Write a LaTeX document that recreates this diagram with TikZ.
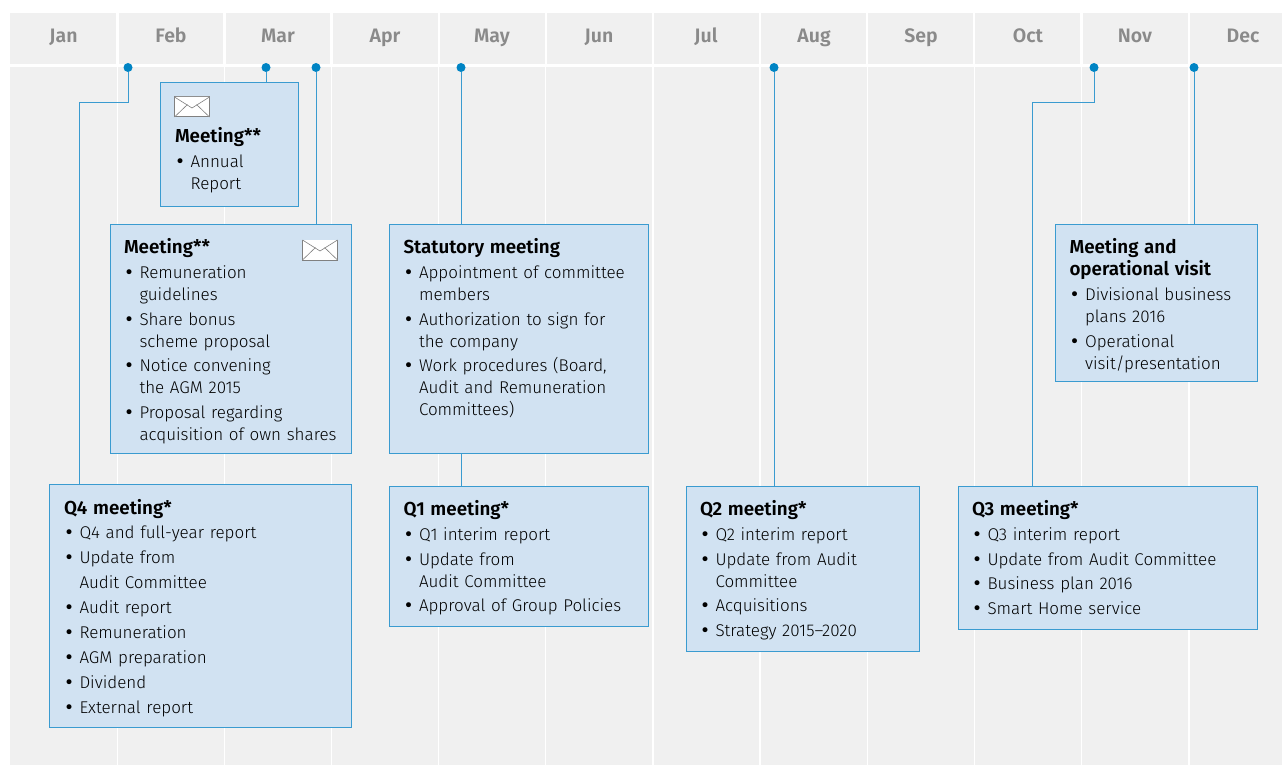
\documentclass[tikz,border=0pt]{standalone}
\usepackage{fontspec}
\setmainfont{Fira Sans}[UprightFont=* Light,BoldFont=* SemiBold]
\newfontfamily\bulfont{DejaVu Sans}
\definecolor{panel}{HTML}{F0F0F0}
\definecolor{boxfill}{HTML}{D1E2F2}
\definecolor{boxline}{HTML}{3A9BD0}
\definecolor{dotblue}{HTML}{0084C4}
\definecolor{month}{HTML}{8A8A8A}
\definecolor{envline}{HTML}{808080}
\newcommand{\bl}[1]{\makebox[15.5pt][l]{{\bulfont •}}#1\par}
\newcommand{\cl}[1]{\vspace{-2.6pt}\hspace*{15.5pt}#1\par}
\newcommand{\cln}[1]{\hspace*{15.5pt}#1\par}
\newcommand{\ti}[1]{{\bfseries\fontsize{18.8}{24.6}\selectfont #1\par}\vspace{1pt}}
\newcommand{\envelope}[2]{\draw[envstyle] (#1,#2) rectangle ++(35,20);
  \draw[envstyle,line width=.6pt] (#1,#2) -- ++(17.5,11) -- ++(17.5,-11);
  \draw[envstyle,line width=.6pt] (#1,#2+20) -- ++(13,-12.5);
  \draw[envstyle,line width=.6pt] (#1+35,#2+20) -- ++(-13,-12.5);}
\tikzset{
  x=1pt,y=-1pt,
  mbox/.style={draw=boxline,fill=boxfill,line width=1pt,anchor=north west,inner sep=0pt,outer sep=0pt},
  mtext/.style={anchor=north west,inner sep=0pt,outer sep=0pt,align=left,text width=#1,font=\fontsize{17}{24.6}\selectfont},
  monthlbl/.style={text=month,font=\bfseries\fontsize{19.5}{20}\selectfont,anchor=base},
  dotn/.style={circle,fill=dotblue,minimum size=9pt,inner sep=0pt,outer sep=0pt},
  conn/.style={draw=boxline,line width=1pt},
  gridl/.style={draw=white,line width=1.2pt},
  gridh/.style={draw=white,line width=2.3pt},
  envstyle/.style={draw=envline,fill=white,line width=1pt}
}
\newcommand{\mb}[5]{\node[mbox,minimum width=#4-#2,minimum height=#5-#3] (#1) at (#2,#3) {};}
\begin{document}
\begin{tikzpicture}
\useasboundingbox (0,0) rectangle (1282,765);
\fill[panel] (10,13) rectangle (1282,765);
\foreach \x in {117.5,224.5,331.6,438.7,545.8,652.9,760,867.1,974.2,1081.5,1189} {
  \draw[gridl] (\x,65) -- (\x,765);
  \draw[gridh] (\x,13) -- (\x,65);
}
\draw[gridh] (10,65.5) -- (1282,65.5);
\foreach \m/\x in {Jan/63.5,Feb/171,Mar/278,Apr/385,May/492,Jun/599,Jul/706,Aug/814,Sep/921,Oct/1028,Nov/1135,Dec/1243}
  \node[monthlbl] (m\m) at (\x,43) {\m};
% dots
\foreach \n/\x in {d1/128,d2/266,d3/316,d4/461,d5/774,d6/1094,d7/1194}
  \node[dotn] (\n) at (\x,67.5) {};
% boxes
\mb{q4}{49.5}{484}{351.5}{727.5}
\mb{m1}{160.5}{82.5}{298.5}{206.5}
\mb{m2}{110}{224.5}{351.5}{453.5}
\mb{st}{389}{224.5}{648}{453.5}
\mb{q1}{389}{486}{648}{626}
\mb{q2}{686}{486}{919.5}{651}
\mb{mv}{1055}{224.5}{1257}{381}
\mb{q3}{958}{486}{1257}{629}
% connectors
\coordinate (e1) at (128,103);
\coordinate (e2) at (79.5,103);
\coordinate (e3) at (1094,103);
\coordinate (e4) at (1032.5,103);
\draw[conn] (d1) -- (e1) -- (e2) -- (e2 |- q4.north);
\draw[conn] (d2) -- (d2 |- m1.north);
\draw[conn] (d3) -- (d3 |- m2.north);
\draw[conn] (d4) -- (d4 |- st.north);
\draw[conn] (d4 |- st.south) -- (d4 |- q1.north);
\draw[conn] (d5) -- (d5 |- q2.north);
\draw[conn] (d6) -- (e3) -- (e4) -- (e4 |- q3.north);
\draw[conn] (d7) -- (d7 |- mv.north);
% envelopes
\envelope{174.5}{97}
\envelope{302.5}{240}
% texts
\node[mtext=280pt] (t1) at (64,499) {\fontsize{17}{25}\selectfont\ti{Q4 meeting*}\vspace{-2pt}\bl{Q4 and full-year report}\bl{Update from}\cln{Audit Committee}\bl{Audit report}\bl{Remuneration}\bl{AGM preparation}\bl{Dividend}\bl{External report}};
\node[mtext=120pt] (t2) at (175,127) {\ti{Meeting**}\bl{Annual}\cl{Report}};
\node[mtext=225pt] (t3) at (124,238) {\ti{Meeting**}\bl{Remuneration}\cl{guidelines}\bl{Share bonus}\cl{scheme proposal}\bl{Notice convening}\cl{the AGM 2015}\bl{Proposal regarding}\cl{acquisition of own shares}};
\node[mtext=240pt] (t4) at (403.5,238) {\ti{Statutory meeting}\bl{Appointment of committee}\cl{members}\bl{Authorization to sign for}\cl{the company}\bl{Work procedures (Board,}\cl{Audit and Remuneration}\cl{Committees)}};
\node[mtext=240pt] (t5) at (403.5,500) {\ti{Q1 meeting*}\bl{Q1 interim report}\bl{Update from}\cl{Audit Committee}\bl{Approval of Group Policies}};
\node[mtext=210pt] (t6) at (700,500) {\ti{Q2 meeting*}\bl{Q2 interim report}\bl{Update from Audit}\cl{Committee}\bl{Acquisitions}\bl{Strategy 2015–2020}};
\node[mtext=180pt] (t7) at (1069.5,238) {\ti{Meeting and}\vspace{-3.5pt}\ti{operational visit}\bl{Divisional business}\cl{plans 2016}\bl{Operational}\cl{visit/presentation}};
\node[mtext=280pt] (t8) at (972,500) {\ti{Q3 meeting*}\bl{Q3 interim report}\bl{Update from Audit Committee}\bl{Business plan 2016}\bl{Smart Home service}};
\end{tikzpicture}
\end{document}
